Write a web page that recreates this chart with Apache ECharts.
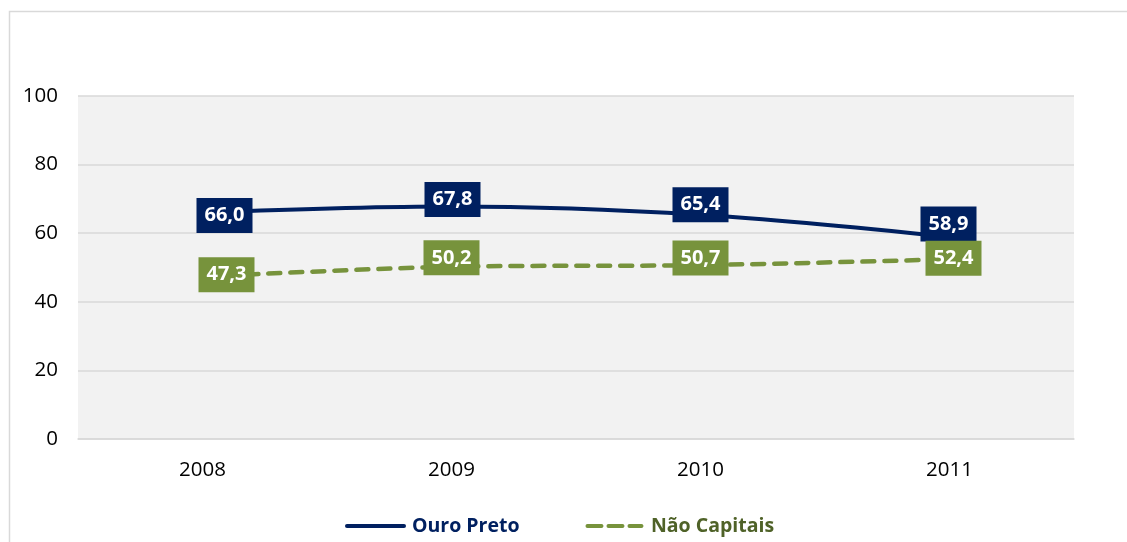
<!DOCTYPE html>
<html>
<head>
<meta charset="utf-8">
<script src="https://cdn.jsdelivr.net/npm/echarts@6/dist/echarts.min.js"></script>
<style>html,body{margin:0;padding:0;background:#fff;}#c{width:1127px;height:542px;}</style>
</head>
<body>
<div id="c"></div>
<script>
const categories = ['2008', '2009', '2010', '2011'];
const ouroPreto = [66.0, 67.8, 65.4, 58.9];
const naoCapitais = [47.3, 50.2, 50.7, 52.4];
const seriesNames = ['Ouro Preto', 'Não Capitais'];
// label offsets [dx, dy] per point
const opOffsets = [[22, 3], [1, -7], [0, -10], [-1, -13]];
const ncOffsets = [[24, -2], [0, -9], [0, -7], [4, -1]];

const fmt = v => v.toFixed(1).replace('.', ',');
function build(vals, offs) {
  return vals.map((v, i) => ({ value: v, label: { offset: offs[i] } }));
}
const labelBase = (bg) => ({
  show: true,
  position: 'inside',
  formatter: p => fmt(p.value),
  color: '#ffffff',
  fontFamily: 'Open Sans',
  fontWeight: 'bold',
  fontSize: 20,
  backgroundColor: bg,
  padding: [6, 8, 6, 8],
  lineHeight: 23
});

const solidIcon = 'path://M2,0H59A2,2 0 0 1 59,4H2A2,2 0 0 1 2,0Z';
const dashIcon = 'path://M2,0H16A2,2 0 0 1 16,4H2A2,2 0 0 1 2,0ZM23,0H37A2,2 0 0 1 37,4H23A2,2 0 0 1 23,0ZM44,0H56A2,2 0 0 1 56,4H44A2,2 0 0 1 44,0Z';

const chart = echarts.init(document.getElementById('c'), null, { renderer: 'canvas' });
chart.setOption({
  animation: false,
  backgroundColor: '#ffffff',
  graphic: [{
    type: 'rect',
    shape: { x: 9.5, y: 11.5, width: 1300, height: 700 },
    style: { fill: 'none', stroke: '#d9d9d9', lineWidth: 1.5 },
    z: -10
  }],
  grid: { left: 78, right: 53, top: 96, bottom: 103, show: true, backgroundColor: '#f2f2f2', borderWidth: 0 },
  legend: {
    left: 340,
    top: 511,
    itemGap: 66,
    itemWidth: 61,
    itemHeight: 4,
    textStyle: { fontFamily: 'Open Sans', fontWeight: 'bold', fontSize: 19.5, padding: [0, 0, 0, 1] },
    data: [
      { name: seriesNames[0], icon: solidIcon, itemStyle: { color: '#002060' }, textStyle: { color: '#002060' } },
      { name: seriesNames[1], icon: dashIcon, itemStyle: { color: '#77933c' }, textStyle: { color: '#4f6228' } }
    ]
  },
  xAxis: {
    type: 'category',
    data: categories,
    boundaryGap: true,
    axisLine: { show: true, lineStyle: { color: '#d9d9d9', width: 1.5 } },
    axisTick: { show: false },
    axisLabel: { color: '#000000', fontFamily: 'Open Sans', fontSize: 20.5, margin: 21 }
  },
  yAxis: {
    type: 'value',
    min: 0, max: 100, interval: 20,
    axisLine: { show: false },
    axisTick: { show: false },
    splitLine: { lineStyle: { color: '#d9d9d9', width: 1.5 } },
    axisLabel: { color: '#000000', fontFamily: 'Open Sans', fontSize: 20.5, margin: 20 }
  },
  series: [
    {
      name: seriesNames[0],
      type: 'line',
      smooth: 0.35,
      symbol: 'circle',
      symbolSize: 1,
      data: build(ouroPreto, opOffsets),
      lineStyle: { color: '#002060', width: 4 },
      itemStyle: { color: '#002060' },
      label: labelBase('#002060'),
      z: 3
    },
    {
      name: seriesNames[1],
      type: 'line',
      smooth: 0.35,
      symbol: 'circle',
      symbolSize: 1,
      data: build(naoCapitais, ncOffsets),
      lineStyle: { color: '#77933c', width: 4.5, type: [12, 10], cap: 'round' },
      itemStyle: { color: '#77933c' },
      label: labelBase('#77933c'),
      z: 4
    }
  ]
});
</script>
</body>
</html>
